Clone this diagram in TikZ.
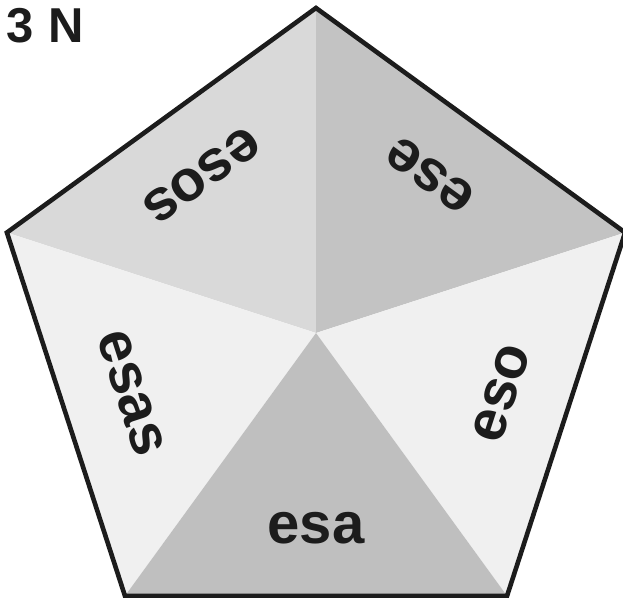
\documentclass[tikz,border=0pt]{standalone}
\usepackage{fontspec}
\setmainfont{Liberation Sans}
\usetikzlibrary{calc}
\definecolor{faceUL}{HTML}{D9D9D9}
\definecolor{faceUR}{HTML}{C3C3C3}
\definecolor{faceSide}{HTML}{F0F0F0}
\definecolor{faceBot}{HTML}{BFBFBF}
\definecolor{ink}{HTML}{1C1C1C}
\begin{document}
\begin{tikzpicture}[x=1pt,y=1pt,
  lbl/.style={anchor=base, inner sep=0pt, text=ink, font=\fontsize{58}{58}\selectfont\bfseries},
  rim/.style={draw=ink, line width=4.6pt, line join=miter}]
\useasboundingbox (0,0) rectangle (623,597);
\coordinate (c) at (316,264);
\coordinate (t) at ($(c)+(90:325)$);
\coordinate (ul) at ($(c)+(162:325)$);
\coordinate (bl) at ($(c)+(234:325)$);
\coordinate (br) at ($(c)+(306:325)$);
\coordinate (ur) at ($(c)+(18:325)$);
\fill[faceUL] (c) -- (ul) -- (t) -- cycle;
\fill[faceUR] (c) -- (t) -- (ur) -- cycle;
\fill[faceSide] (c) -- (ur) -- (br) -- cycle;
\fill[faceSide] (c) -- (bl) -- (ul) -- cycle;
\fill[faceBot] (c) -- (bl) -- (br) -- cycle;
\draw[rim] (t) -- (ur) -- (br) -- (bl) -- (ul) -- cycle;
\node[lbl, rotate=0] (esa) at ($(c)+(-90:210)$) {esa};
\node[lbl, rotate=72] (eso) at ($(c)+(-18:210)$) {eso};
\node[lbl, rotate=144] (ese) at ($(c)+(54:210)$) {ese};
\node[lbl, rotate=216] (esos) at ($(c)+(126:210)$) {esos};
\node[lbl, rotate=288] (esas) at ($(c)+(198:210)$) {esas};
\node[anchor=base west, inner sep=0pt, text=ink, font=\fontsize{49}{49}\selectfont\bfseries] (title) at (6,554) {3\hspace{0.3em}N};
\end{tikzpicture}
\end{document}
